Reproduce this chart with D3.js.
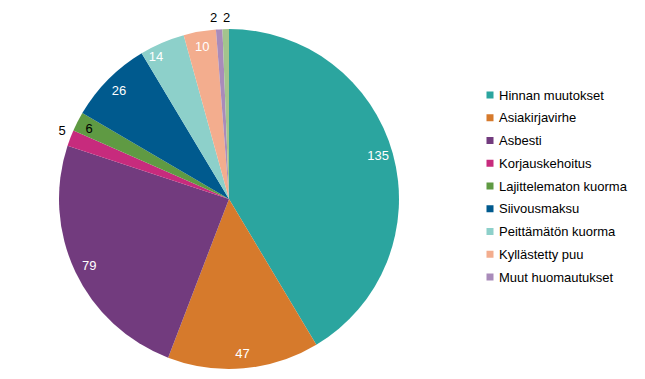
<!DOCTYPE html>
<html><head><meta charset="utf-8">
<script src="https://cdn.jsdelivr.net/npm/d3@7"></script>
<style>body{margin:0;background:#fff}svg{display:block;font-family:"Liberation Sans",Arial,sans-serif}</style>
</head><body>
<svg id="c" width="645" height="379"></svg>
<script>
const categories = ["Hinnan muutokset","Asiakirjavirhe","Asbesti","Korjauskehoitus","Lajittelematon kuorma","Siivousmaksu","Peittämätön kuorma","Kyllästetty puu","Muut huomautukset",""];
const values = [135,47,79,5,6,26,14,10,2,2];
const colors = ["#2BA59F","#D67A2C","#723B7E","#C72B7D","#5F9A43","#005A8E","#8DD0CA","#F3AD8E","#A98BBA","#A3C48D"];
const labelColors = ["#fff","#fff","#fff","#000","#000","#fff","#fff","#fff","#000","#000"];
const outside = [false,false,false,true,false,false,false,false,true,true];
const labelShiftX = [0,0,0,3,-2,0,-12,0,-5,1];
const labelShiftY = [-2,0,0,-3,0,0,0,0,0,0];
const legendCount = 9;

const svg = d3.select("#c");
const cx = 229, cy = 199, r = 170;
const g = svg.append("g").attr("transform", `translate(${cx},${cy})`);
const pie = d3.pie().sort(null).value(d => d)(values);
const arc = d3.arc().innerRadius(0).outerRadius(r);
g.selectAll("path").data(pie).join("path").attr("d", arc).attr("fill", (d,i) => colors[i]);

const inArc = d3.arc().innerRadius(r*0.91).outerRadius(r*0.91);
const outArc = d3.arc().innerRadius(r*1.07).outerRadius(r*1.07);
g.selectAll("text").data(pie).join("text")
  .attr("transform", (d,i) => {
    const [x,y] = (outside[i] ? outArc : inArc).centroid(d);
    return `translate(${x+labelShiftX[i]},${y+labelShiftY[i]})`;
  })
  .attr("text-anchor","middle").attr("dy","0.35em")
  .attr("font-size", 13).attr("fill", (d,i) => labelColors[i])
  .text(d => d.data);

const lg = svg.append("g");
const items = categories.slice(0, legendCount);
const ly = d3.scalePoint().domain(d3.range(legendCount)).range([95, 277]);
const it = lg.selectAll("g").data(items).join("g").attr("transform", (d,i) => `translate(490,${ly(i)})`);
it.append("rect").attr("x",-3.5).attr("y",-3.5).attr("width",7).attr("height",7).attr("fill",(d,i)=>colors[i]);
it.append("text").attr("x",9).attr("dy","0.36em").attr("font-size",13).attr("fill","#000").text(d=>d);
</script>
</body></html>
